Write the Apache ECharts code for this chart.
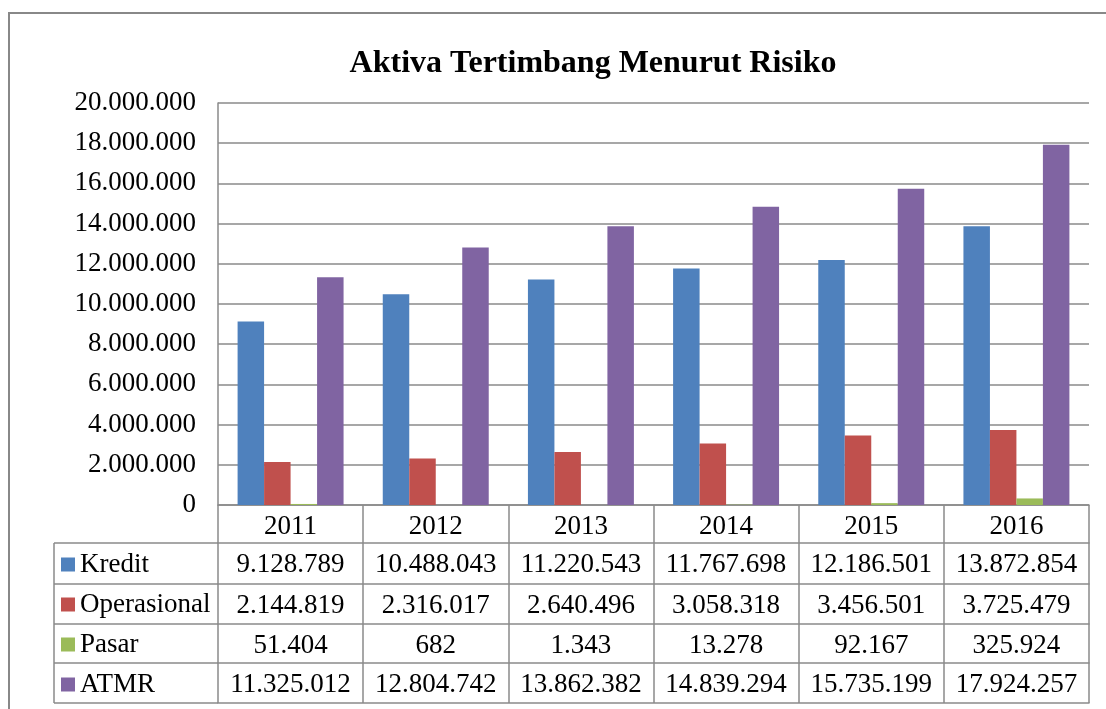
<!DOCTYPE html>
<html>
<head>
<meta charset="utf-8">
<script src="https://cdn.jsdelivr.net/npm/echarts@6/dist/echarts.min.js"></script>
<style>
  html, body { margin: 0; padding: 0; background: #fff; }
  #chart { width: 1106px; height: 709px; }
</style>
</head>
<body>
<div id="chart"></div>
<script>
// data
const years = ['2011', '2012', '2013', '2014', '2015', '2016'];
const kredit = [9128789, 10488043, 11220543, 11767698, 12186501, 13872854];
const operasional = [2144819, 2316017, 2640496, 3058318, 3456501, 3725479];
const pasar = [51404, 682, 1343, 13278, 92167, 325924];
const atmr = [11325012, 12804742, 13862382, 14839294, 15735199, 17924257];
const yTicks = { min: 0, max: 20000000, interval: 2000000 };

const seriesDefs = [
  { name: 'Kredit', data: kredit, color: '#4F81BD' },
  { name: 'Operasional', data: operasional, color: '#C0504D' },
  { name: 'Pasar', data: pasar, color: '#9BBB59' },
  { name: 'ATMR', data: atmr, color: '#8064A2' }
];

const FONT = '"Liberation Serif", "Times New Roman", serif';
const FS = 27;
const LINE = '#8a8a8a';
const fmt = v => String(v).replace(/\B(?=(\d{3})+(?!\d))/g, '.');

// table geometry (offsets of row lines below the plot bottom)
const rowOffsets = [38, 79, 119, 158, 198];
const gridLeft = 218, gridBottomY = 505, tableLeft = 54;

const chart = echarts.init(document.getElementById('chart'));

// year header axis + one axis per table row
const xAxes = [{
  type: 'category',
  data: years,
  position: 'bottom',
  axisLine: { lineStyle: { color: LINE, width: 1.5 } },
  axisTick: { show: true, interval: 0, length: rowOffsets[0], lineStyle: { color: LINE, width: 1.5 } },
  axisLabel: { interval: 0, margin: 8, fontSize: FS, fontFamily: FONT, color: '#000' }
}];
seriesDefs.forEach((s, i) => {
  xAxes.push({
    type: 'category',
    data: s.data.map(fmt),
    position: 'bottom',
    offset: rowOffsets[i],
    axisLine: { lineStyle: { color: LINE, width: 1.5 } },
    axisTick: { show: true, interval: 0, length: rowOffsets[i + 1] - rowOffsets[i], lineStyle: { color: LINE, width: 1.5 } },
    axisLabel: { interval: 0, margin: 8, fontSize: FS, fontFamily: FONT, color: '#000' }
  });
});
// bottom line of the table
xAxes.push({
  type: 'category',
  data: years,
  position: 'bottom',
  offset: rowOffsets[4],
  axisLine: { lineStyle: { color: LINE, width: 1.5 } },
  axisTick: { show: false },
  axisLabel: { show: false }
});

// left column lines of the table
const leftLines = [{
  type: 'line',
  shape: { x1: tableLeft, y1: gridBottomY + rowOffsets[0], x2: tableLeft, y2: gridBottomY + rowOffsets[4] },
  style: { stroke: LINE, lineWidth: 1.5 }
}];
rowOffsets.forEach(o => {
  leftLines.push({
    type: 'line',
    shape: { x1: tableLeft, y1: gridBottomY + o, x2: gridLeft, y2: gridBottomY + o },
    style: { stroke: LINE, lineWidth: 1.5 }
  });
});

chart.setOption({
  animation: false,
  title: {
    text: 'Aktiva Tertimbang Menurut Risiko',
    left: 588, top: 43, textAlign: 'center',
    textStyle: { fontFamily: FONT, fontSize: 32, fontWeight: 'bold', color: '#000' }
  },
  legend: {
    orient: 'vertical',
    left: 61, top: 551,
    padding: 0,
    itemGap: 13,
    itemWidth: 14, itemHeight: 14,
    icon: 'rect',
    selectedMode: false,
    textStyle: { fontFamily: FONT, fontSize: FS, lineHeight: 27, color: '#000', padding: [0, 0, 0, 0] },
    data: seriesDefs.map(s => s.name)
  },
  grid: { left: gridLeft, top: 103, right: 17, bottom: 709 - gridBottomY, containLabel: false },
  xAxis: xAxes,
  yAxis: {
    type: 'value',
    min: yTicks.min, max: yTicks.max, interval: yTicks.interval,
    axisLine: { show: true, lineStyle: { color: LINE, width: 1.5 } },
    axisTick: { show: false },
    splitLine: { lineStyle: { color: LINE, width: 1.5 } },
    axisLabel: { margin: 22, fontSize: FS, fontFamily: FONT, color: '#000', formatter: fmt }
  },
  series: seriesDefs.map(s => ({
    name: s.name,
    type: 'bar',
    xAxisIndex: 0,
    data: s.data,
    barGap: '0%',
    barCategoryGap: '27%',
    itemStyle: { color: s.color }
  })),
  graphic: [{
    type: 'rect',
    shape: { x: 9, y: 13, width: 1120, height: 720 },
    style: { fill: 'none', stroke: '#888', lineWidth: 2 },
    silent: true
  }].concat(leftLines)
});
</script>
</body>
</html>
